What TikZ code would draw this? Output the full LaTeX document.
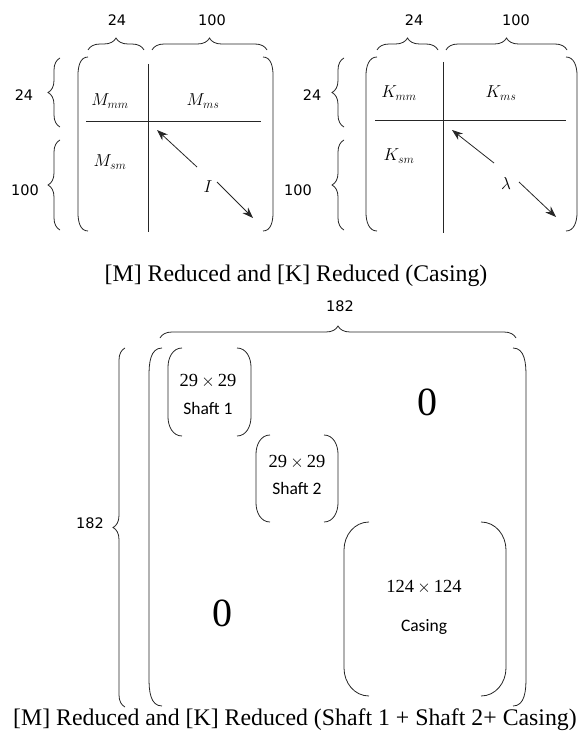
\documentclass[tikz,border=0pt]{standalone}
\usepackage{fontspec}
\setmainfont{Liberation Serif}
\newfontfamily\numfont{DejaVu Sans}
\newfontfamily\calfont{Carlito}
\usetikzlibrary{decorations.pathreplacing,arrows.meta}
\newcommand\parpair[6]{%
  \draw[ln] (#1+#5,#3) to[out=180,in=90] (#1,#3+#6) -- (#1,#4-#6) to[out=-90,in=180] (#1+#5,#4);
  \draw[ln] (#2-#5,#3) to[out=0,in=90] (#2,#3+#6) -- (#2,#4-#6) to[out=-90,in=0] (#2-#5,#4);}
\begin{document}
\begin{tikzpicture}[x=1pt,y=-1pt,
  ln/.style={line width=0.8pt, draw=black!85},
  brc/.style={ln, decorate, decoration={brace, amplitude=12pt}},
  arr/.style={ln, -{Stealth[length=11pt,width=8pt]}},
  num/.style={font=\numfont\fontsize{14.5}{17}\selectfont, inner sep=0pt},
  ent/.style={font=\fontsize{17}{20}\selectfont, inner sep=0pt},
  captext/.style={font=\fontsize{23.8}{28}\selectfont, inner sep=0pt, anchor=base},
  zero/.style={font=\fontsize{40}{44}\selectfont, inner sep=0pt},
  blk/.style={font=\fontsize{18.5}{21}\selectfont, inner sep=0pt},
  blkname/.style={font=\calfont\fontsize{17.5}{20}\selectfont, inner sep=0pt},
]
\useasboundingbox (0,0) rectangle (579,735);

% ---------- top-left matrix [M] ----------
\parpair{78}{273}{57}{231}{10}{18}
\draw[ln] (148,64) -- (148,232);
\draw[ln] (86,121) -- (261,121);
\draw[brc] (88,50) -- (144,50);
\draw[brc] (152,50) -- (267,50);
\draw[brc] (60,127) -- (60,58);
\draw[brc] (60,230) -- (60,140);
\node[num] (mt24) at (117,20) {24};
\node[num] (mt100) at (212,20) {100};
\node[num] (ml24) at (24,95) {24};
\node[num] (ml100) at (25,190) {100};
\node[ent] (Mmm) at (110,101) {$M_{mm}$};
\node[ent] (Mms) at (203,101) {$M_{ms}$};
\node[ent] (Msm) at (110,162) {$M_{sm}$};
\node[ent] (MI) at (208,187) {$I$};
\coordinate (h1) at (157,130);
\coordinate (t1) at (197,167);
\coordinate (t2) at (217,182);
\coordinate (h2) at (253,218);
\draw[arr] (t1) -- (h1);
\draw[arr] (t2) -- (h2);

% ---------- top-right matrix [K] ----------
\parpair{366}{577}{57}{231}{11}{18}
\draw[ln] (443,62) -- (443,233);
\draw[ln] (375,120) -- (566,120);
\draw[brc] (377,50) -- (438,50);
\draw[brc] (446,50) -- (567,50);
\draw[brc] (344,127) -- (344,58);
\draw[brc] (344,230) -- (344,140);
\node[num] (kt24) at (414,20) {24};
\node[num] (kt100) at (516,20) {100};
\node[num] (kl24) at (312,95) {24};
\node[num] (kl100) at (298,190) {100};
\node[ent] (Kmm) at (399,93) {$K_{mm}$};
\node[ent] (Kms) at (501,93) {$K_{ms}$};
\node[ent] (Ksm) at (399,156) {$K_{sm}$};
\node[ent] (Kl) at (506,184) {$\lambda$};
\coordinate (h3) at (452,130);
\coordinate (t3) at (494,163);
\coordinate (t4) at (519,182);
\coordinate (h4) at (556,217);
\draw[arr] (t3) -- (h3);
\draw[arr] (t4) -- (h4);

\node[captext] (cap1) at (296,281) {[M] Reduced and [K] Reduced (Casing)};

% ---------- bottom matrix ----------
\parpair{149}{526}{348}{706}{13}{28}
\draw[brc] (160,338) -- (516,338);
\draw[brc] (125,707) -- (125,348);
\node[num] (bt182) at (340,306) {182};
\node[num] (bl182) at (90,523) {182};

\parpair{168}{251}{348}{436}{14}{19}
\node[blk] (s1a) at (208,381) {29\,$\times$\,29};
\node[blkname] (s1b) at (208,408) {Shaft 1};

\parpair{256}{338}{435}{522}{14}{19}
\node[blk] (s2a) at (297,462) {29\,$\times$\,29};
\node[blkname] (s2b) at (297,488) {Shaft 2};

\parpair{344}{506}{522}{696}{25}{28}
\node[blk] (ca) at (424,587) {124\,$\times$\,124};
\node[blkname] (cb) at (424,627) {Casing};

\node[zero] (z1) at (427,402) {0};
\node[zero] (z2) at (222,613) {0};

\node[captext] (cap2) at (295,725) {[M] Reduced and [K] Reduced (Shaft 1 + Shaft 2+ Casing)};
\end{tikzpicture}
\end{document}
